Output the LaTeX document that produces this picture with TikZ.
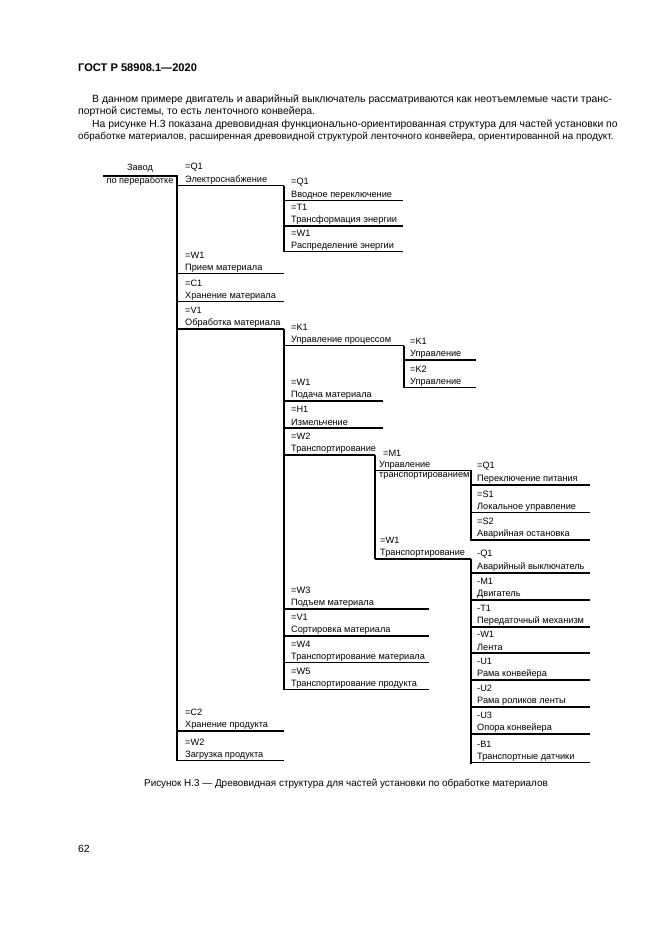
\documentclass[tikz,border=0pt]{standalone}
\usepackage{fontspec}
\setmainfont{Liberation Sans}
\begin{document}
\begin{tikzpicture}[x=1pt,y=-1pt,
  lbl/.style={anchor=west,inner sep=0pt,font=\fontsize{9.2}{11}\selectfont},
  body/.style={anchor=west,inner sep=0pt,font=\fontsize{10.4}{12}\selectfont},
  tl/.style={line width=1.6pt}]
\useasboundingbox (0,0) rectangle (661,935);
\newcommand\itm[6]{%
  \node[lbl] at (#1,#2) {#5};
  \node[lbl] at (#1,#2+12.8) {#6};
  \draw[tl] (#3,#2+18.5) -- (#4,#2+18.5);}
\node[anchor=west,inner sep=0pt,font=\bfseries\fontsize{11.1}{13}\selectfont] (hd) at (78,68) {ГОСТ Р 58908.1—2020};
\node[body] (p1) at (92,100) {В данном примере двигатель и аварийный выключатель рассматриваются как неотъемлемые части транс-};
\node[body] (p2) at (78,112) {портной системы, то есть ленточного конвейера.};
\node[body] (p3) at (92,125) {На рисунке Н.3 показана древовидная функционально-ориентированная структура для частей установки по};
\node[body,font=\fontsize{9.9}{12}\selectfont] (p4) at (78,137) {обработке материалов, расширенная древовидной структурой ленточного конвейера, ориентированной на продукт.};
% root
\node[lbl,anchor=center] (r1) at (140,168) {Завод};
\node[lbl,anchor=center] (r2) at (140,181) {по переработке};
\draw[tl] (103,176) -- (177,176) -- (177,760.5);
% level 1
\itm{185}{167}{177}{284}{=Q1}{Электроснабжение}
\draw[tl] (284,185.5) -- (284,251.5);
\itm{291}{182}{284}{403}{=Q1}{Вводное переключение}
\itm{291}{207.5}{284}{403}{=T1}{Трансформация энергии}
\itm{291}{233}{284}{403}{=W1}{Распределение энергии}
\itm{185}{255}{177}{284}{=W1}{Прием материала}
\itm{185}{283}{177}{284}{=C1}{Хранение материала}
\itm{185}{310.5}{177}{284}{=V1}{Обработка материала}
\draw[tl] (284,329) -- (284,689.5);
% level 2
\itm{291}{327}{284}{404}{=K1}{Управление процессом}
\draw[tl] (404,345.5) -- (404,387.5);
\itm{410}{341.5}{404}{476}{=K1}{Управление}
\itm{410}{369}{404}{476}{=K2}{Управление}
\itm{291}{382.5}{284}{383}{=W1}{Подача материала}
\itm{291}{409.5}{284}{383}{=H1}{Измельчение}
\itm{291}{436.5}{284}{375}{=W2}{Транспортирование}
\draw[tl] (375,455) -- (375,559);
% M1
\node[lbl] (m1a) at (383,453) {=M1};
\node[lbl] (m1b) at (379,465) {Управление};
\node[lbl] (m1c) at (379,476) {транспортированием};
\draw[tl] (375,470.5) -- (471,470.5) -- (471,540.5);
\itm{477}{466.5}{471}{590}{=Q1}{Переключение питания}
\itm{477}{494}{471}{590}{=S1}{Локальное управление}
\itm{477}{521.5}{471}{590}{=S2}{Аварийная остановка}
\itm{380}{540.5}{375}{471}{=W1}{Транспортирование}
\draw[tl] (471,559) -- (471,763.5);
\itm{477}{554.5}{471}{590}{-Q1}{Аварийный выключатель}
\itm{477}{581.5}{471}{590}{-M1}{Двигатель}
\itm{477}{608.5}{471}{590}{-T1}{Передаточный механизм}
\itm{477}{634.5}{471}{590}{-W1}{Лента}
\itm{477}{661.5}{471}{590}{-U1}{Рама конвейера}
\itm{477}{688.5}{471}{590}{-U2}{Рама роликов ленты}
\itm{477}{715.5}{471}{590}{-U3}{Опора конвейера}
\itm{477}{744}{471}{590}{-B1}{Транспортные датчики}
\itm{291}{590.5}{284}{429}{=W3}{Подъем материала}
\itm{291}{617.5}{284}{429}{=V1}{Сортировка материала}
\itm{291}{644}{284}{429}{=W4}{Транспортирование материала}
\itm{291}{671}{284}{429}{=W5}{Транспортирование продукта}
\itm{185}{712.5}{177}{284}{=C2}{Хранение продукта}
\itm{185}{742}{177}{284}{=W2}{Загрузка продукта}
\node[anchor=center,inner sep=0pt,font=\fontsize{9.9}{12}\selectfont] (cap) at (346,784) {Рисунок Н.3 — Древовидная структура для частей установки по обработке материалов};
\node[body] (pg) at (78,849) {62};
\end{tikzpicture}
\end{document}
